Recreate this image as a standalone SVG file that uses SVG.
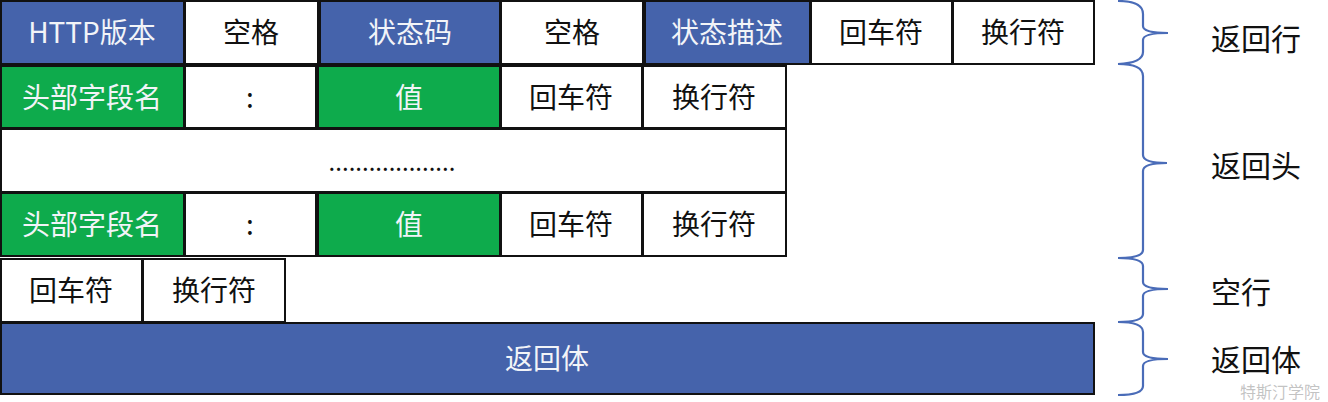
<svg xmlns="http://www.w3.org/2000/svg" width="1328" height="402" viewBox="0 0 1328 402">
<style>
.b{fill:#4563ab;stroke:#111;stroke-width:2}
.g{fill:#0eab4c;stroke:#111;stroke-width:2}
.w{fill:#fff;stroke:#111;stroke-width:2}
text{font-family:"Noto Sans CJK SC","Liberation Sans",sans-serif;font-size:28px;text-anchor:middle;dominant-baseline:central}
.lt{fill:#f2f4f8}
.dk{fill:#111}
.lab{font-size:30px;fill:#111;text-anchor:start}
.br{fill:none;stroke:#4a6cb8;stroke-width:2.2}
.wm{font-size:16px;fill:#9a9a9a;fill-opacity:0.6;text-anchor:start}
</style>
<rect width="1328" height="402" fill="#fff"/>
<g id="row1">
<g id="r1c1"><rect class="b" x="1" y="1" width="183" height="63"/><text class="lt" x="92" y="31">HTTP版本</text></g>
<g id="r1c2"><rect class="w" x="185" y="1" width="133" height="63"/><text class="dk" x="251" y="31">空格</text></g>
<g id="r1c3"><rect class="b" x="320" y="1" width="180" height="63"/><text class="lt" x="410" y="31">状态码</text></g>
<g id="r1c4"><rect class="w" x="501" y="1" width="142" height="63"/><text class="dk" x="572" y="31">空格</text></g>
<g id="r1c5"><rect class="b" x="645" y="1" width="165" height="63"/><text class="lt" x="727" y="31">状态描述</text></g>
<g id="r1c6"><rect class="w" x="811" y="1" width="141" height="63"/><text class="dk" x="881" y="31">回车符</text></g>
<g id="r1c7"><rect class="w" x="953" y="1" width="141" height="63"/><text class="dk" x="1023" y="31">换行符</text></g>
</g>
<g id="row2">
<g id="r2c1"><rect class="g" x="1" y="66" width="183" height="62"/><text class="lt" x="92" y="96">头部字段名</text></g>
<g id="r2c2"><rect class="w" x="185" y="66" width="131" height="62"/><text class="dk" x="250" y="96">:</text></g>
<g id="r2c3"><rect class="g" x="318" y="66" width="182" height="62"/><text class="lt" x="409" y="96">值</text></g>
<g id="r2c4"><rect class="w" x="501" y="66" width="141" height="62"/><text class="dk" x="571" y="96">回车符</text></g>
<g id="r2c5"><rect class="w" x="643" y="66" width="143" height="62"/><text class="dk" x="714" y="96">换行符</text></g>
</g>
<g id="row3">
<rect class="w" x="1" y="129" width="785" height="63"/><text class="dk" x="392" y="160" style="font-size:24px">...................</text>
</g>
<g id="row4">
<g id="r4c1"><rect class="g" x="1" y="193" width="183" height="63"/><text class="lt" x="92" y="223">头部字段名</text></g>
<g id="r4c2"><rect class="w" x="185" y="193" width="131" height="63"/><text class="dk" x="250" y="223">:</text></g>
<g id="r4c3"><rect class="g" x="318" y="193" width="182" height="63"/><text class="lt" x="409" y="223">值</text></g>
<g id="r4c4"><rect class="w" x="501" y="193" width="141" height="63"/><text class="dk" x="571" y="223">回车符</text></g>
<g id="r4c5"><rect class="w" x="643" y="193" width="143" height="63"/><text class="dk" x="714" y="223">换行符</text></g>
</g>
<g id="row5">
<g id="r5c1"><rect class="w" x="1" y="259" width="141" height="63"/><text class="dk" x="71" y="289">回车符</text></g>
<g id="r5c2"><rect class="w" x="143" y="259" width="142" height="63"/><text class="dk" x="214" y="289">换行符</text></g>
</g>
<g id="row6">
<rect class="b" x="1" y="323" width="1093" height="71"/><text class="lt" x="547" y="357">返回体</text>
</g>
<g id="braces">
<path class="br" d="M1118,1 Q1143,1 1143,14 L1143,26 Q1143,33 1168,33 Q1143,33 1143,40 L1143,52 Q1143,63 1118,64"/>
<path class="br" d="M1118,64 Q1143,64 1143,76 L1143,155 Q1143,163 1167,163 Q1143,163 1143,171 L1143,250 Q1143,258 1118,258"/>
<path class="br" d="M1118,258 Q1143,258 1143,266 L1143,282 Q1143,289 1168,289 Q1143,289 1143,296 L1143,314 Q1143,322 1118,322"/>
<path class="br" d="M1118,322 Q1143,322 1143,332 L1143,352 Q1143,359 1168,359 Q1143,359 1143,366 L1143,386 Q1143,395 1118,395"/>
</g>
<g id="labels">
<text class="lab" x="1211" y="37">返回行</text>
<text class="lab" x="1211" y="164">返回头</text>
<text class="lab" x="1211" y="290">空行</text>
<text class="lab" x="1211" y="358">返回体</text>
<text class="wm" x="1240" y="391">特斯汀学院</text>
</g>
</svg>
